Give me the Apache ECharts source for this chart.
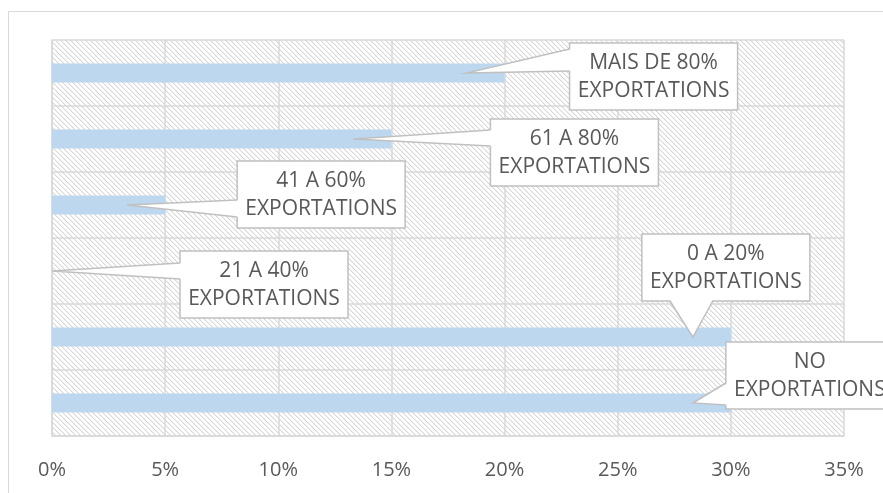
<!DOCTYPE html>
<html>
<head>
<meta charset="utf-8">
<script src="https://cdn.jsdelivr.net/npm/echarts@6/dist/echarts.min.js"></script>
<style>html,body{margin:0;padding:0;background:#fff}#c{width:883px;height:493px}</style>
</head>
<body>
<div id="c"></div>
<script>
// ---- data ----
const categories = ['NO EXPORTATIONS', '0 A 20% EXPORTATIONS', '21 A 40% EXPORTATIONS', '41 A 60% EXPORTATIONS', '61 A 80% EXPORTATIONS', 'MAIS DE 80% EXPORTATIONS'];
const values = [30, 30, 0, 5, 15, 20];
const calloutLines = [['NO', 'EXPORTATIONS'], ['0 A 20%', 'EXPORTATIONS'], ['21 A 40%', 'EXPORTATIONS'], ['41 A 60%', 'EXPORTATIONS'], ['61 A 80%', 'EXPORTATIONS'], ['MAIS DE 80%', 'EXPORTATIONS']];
const xMin = 0, xMax = 35, xStep = 5;

// ---- callout layout (pixel offsets, relative to bar end / bar centre) ----
const calloutLayout = [
  {dx: -5,  dy: -61,  side: 'left',   b1: -20, b2: 2},
  {dx: -89, dy: -103, side: 'bottom', b1: 28,  b2: 71},
  {dx: 128, dy: -20,  side: 'left',   b1: -8,  b2: 8},
  {dx: 72,  dy: -44,  side: 'left',   b1: -5,  b2: 12},
  {dx: 99,  dy: -20,  side: 'left',   b1: -9,  b2: 7},
  {dx: 65,  dy: -30,  side: 'left',   b1: -24, b2: -2}
];

// hatch pattern
const pc = document.createElement('canvas');
pc.width = 5; pc.height = 5;
const g = pc.getContext('2d');
g.fillStyle = '#ffffff'; g.fillRect(0, 0, 5, 5);
for (let i = 0; i < 5; i++) {
  g.fillStyle = '#d6d6d6'; g.fillRect(i, i, 1, 1);
  g.fillStyle = '#f1f1f1'; g.fillRect((i + 1) % 5, i, 1, 1);
}

const FONT = '"Open Sans", "Liberation Sans", sans-serif';
const BOXW = 168, BOXH = 67, STROKE = '#c0c0c0';

const chart = echarts.init(document.getElementById('c'));
chart.setOption({
  animation: false,
  graphic: [{
    type: 'rect', z: -10, silent: true,
    shape: {x: 8.5, y: 11.5, width: 900, height: 500},
    style: {fill: 'none', stroke: '#d9d9d9', lineWidth: 1}
  }],
  grid: {
    left: 52, top: 40, right: 39, bottom: 57,
    show: true, borderWidth: 0,
    backgroundColor: {image: pc, repeat: 'repeat'}
  },
  xAxis: {
    type: 'value', min: xMin, max: xMax, interval: xStep,
    axisLine: {show: true, lineStyle: {color: '#d9d9d9', width: 1.5}},
    axisTick: {show: false},
    splitLine: {show: true, lineStyle: {color: '#d9d9d9', width: 1.5}},
    axisLabel: {formatter: v => v + '%', color: '#595959', fontSize: 20, fontFamily: FONT, margin: 24}
  },
  yAxis: {
    type: 'category', data: categories,
    axisLine: {show: true, lineStyle: {color: '#d9d9d9', width: 1.5}},
    axisTick: {show: false},
    axisLabel: {show: false},
    splitLine: {show: true, lineStyle: {color: '#d9d9d9', width: 1.5}}
  },
  series: [{
    type: 'bar',
    data: values,
    barWidth: 19,
    itemStyle: {color: '#bdd7ee'}
  }, {
    type: 'custom',
    clip: false,
    z: 5,
    data: values.map((v, i) => [v, i]),
    encode: {x: 0, y: 1},
    renderItem: function (params, api) {
      const idx = api.value(1);
      const end = api.coord([api.value(0), idx]);
      const start = api.coord([0, idx]);
      const L = calloutLayout[idx];
      const tip = [Math.max(end[0] - 38, start[0]), end[1]];
      const bx = end[0] + L.dx, by = end[1] + L.dy;
      let p1, p2, q1, q2;
      if (L.side === 'left') {
        p1 = [bx, end[1] + L.b1]; p2 = [bx, end[1] + L.b2];
        q1 = [bx + 2, p1[1]]; q2 = [bx + 2, p2[1]];
      } else {
        p1 = [bx + L.b1, by + BOXH]; p2 = [bx + L.b2, by + BOXH];
        q1 = [p1[0], by + BOXH - 2]; q2 = [p2[0], by + BOXH - 2];
      }
      const lines = calloutLines[idx];
      return {
        type: 'group',
        children: [
          {type: 'rect', shape: {x: bx, y: by, width: BOXW, height: BOXH},
           style: {fill: '#ffffff', stroke: STROKE, lineWidth: 1.5}},
          {type: 'polygon', shape: {points: [tip, q1, q2]},
           style: {fill: '#ffffff', stroke: null}},
          {type: 'polyline', shape: {points: [p1, tip, p2]},
           style: {fill: null, stroke: STROKE, lineWidth: 1.5}},
          {type: 'text',
           style: {text: lines.join('\n'), x: bx + BOXW / 2, y: by + BOXH / 2 + 1,
                   textAlign: 'center', textVerticalAlign: 'middle', align: 'center', verticalAlign: 'middle',
                   lineHeight: 28, fontSize: 21, fontFamily: FONT, fill: '#595959'}}
        ]
      };
    }
  }]
});
</script>
</body>
</html>
